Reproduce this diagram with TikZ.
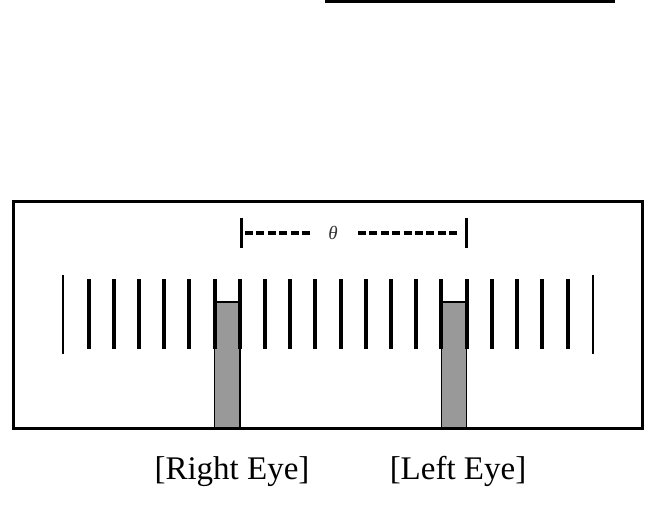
\documentclass[tikz,border=0pt]{standalone}
\usepackage{fontspec}
\setmainfont{Liberation Serif}
\usepackage{amsmath}
\usepackage{tikz}

\definecolor{eyegray}{RGB}{153,153,153}

\begin{document}
\begin{tikzpicture}[x = 1pt, y = -1pt,
                    bar/.style = {line width = 4pt},
                    endbar/.style = {line width = 2.2pt},
                    tick/.style = {line width = 2.5pt},
                    dashline/.style = {line width = 3.2pt, dash pattern = on 8pt off 3.4pt},
                    eye/.style = {draw, line width = 1.5pt, fill = eyegray},
                    eyetext/.style = {anchor = base, inner sep = 0pt, font = \fontsize{33}{40}\selectfont}]

\useasboundingbox (0,0) rectangle (656,504);

% top line
\fill (325,0) rectangle (615,3);

% eyes
\draw[eye] (214.6,302) rectangle (239.8,428);
\draw[eye] (441.5,302) rectangle (466.7,428);

% frame
\draw[line width = 3pt] (13.5,201.5) rectangle (642,428);

% bars
\foreach \i in {1,...,20}
  \draw[bar] (63.3+25.21*\i,279) -- (63.3+25.21*\i,349);
\draw[endbar] (63.3,275) -- (63.3,354);
\draw[endbar] (592.7,275) -- (592.7,354);

% angle
\node[font = \fontsize{19}{22}\selectfont\itshape, text = black!80] (theta) at (333,233) {θ};
\coordinate (TL1) at (241.7,218);
\coordinate (TL2) at (241.7,248);
\coordinate (TR1) at (466.7,218);
\coordinate (TR2) at (466.7,248);
\coordinate (D1) at (245,233);
\coordinate (D2) at (310,233);
\coordinate (D3) at (358,233);
\coordinate (D4) at (458,233);
\draw[tick] (TL1) -- (TL2);
\draw[tick] (TR1) -- (TR2);
\draw[dashline] (D1) -- (D2);
\draw[dashline] (D3) -- (D4);

% labels
\node[eyetext] (RE) at (232,479) {[Right Eye]};
\node[eyetext] (LE) at (458,479) {[Left Eye]};
\end{tikzpicture}
\end{document}
